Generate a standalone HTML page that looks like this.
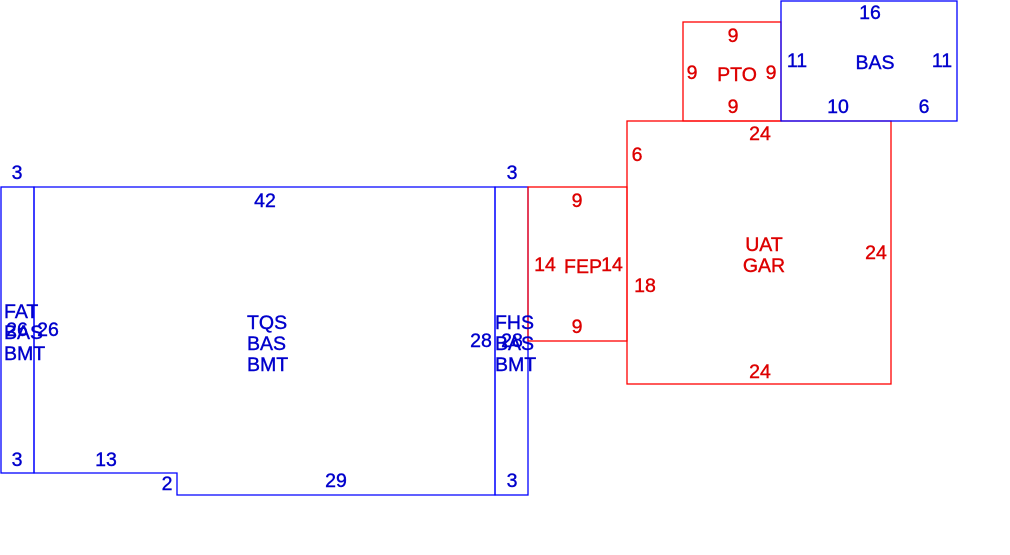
<!DOCTYPE html>
<html><head><style>body{margin:0;background:#fff}svg{display:block}text{font-family:"Liberation Sans",sans-serif;font-size:19.5px;text-anchor:middle;stroke-width:0.4px}.b{fill:#0000cc;stroke:#0000cc}.r{fill:#dd0000;stroke:#dd0000}.l{text-anchor:start}</style></head><body>
<svg width="1010" height="555" viewBox="0 0 1010 555">
<g fill="none" stroke-width="1.3">
<rect x="1" y="187" width="33" height="286" stroke="#0000ff"/>
<polygon points="34,187 495,187 495,495 177,495 177,473 34,473" stroke="#0000ff"/>
<rect x="495" y="187" width="33" height="308" stroke="#0000ff"/>
<rect x="528" y="187" width="99" height="154" stroke="#ff0000"/>
<rect x="627" y="121" width="264" height="263" stroke="#ff0000"/>
<rect x="683" y="22" width="98" height="99" stroke="#ff0000"/>
<rect x="781" y="1" width="176" height="120" stroke="#0000ff"/>
</g>
<g class="b">
<text x="17" y="179">3</text><text x="512" y="179">3</text>
<text x="265" y="207">42</text>
<text x="17" y="466">3</text><text x="106" y="466">13</text>
<text x="167" y="490">2</text><text x="336" y="487">29</text><text x="512" y="487">3</text>
<text class="l" x="4" y="318">FAT</text><text class="l" x="4" y="339">BAS</text><text class="l" x="4" y="360">BMT</text>
<text x="17" y="336">26</text><text x="48" y="336">26</text>
<text class="l" x="247" y="329">TQS</text><text class="l" x="247" y="350">BAS</text><text class="l" x="247" y="371">BMT</text>
<text class="l" x="495" y="329">FHS</text><text class="l" x="495" y="350">BAS</text><text class="l" x="495" y="371">BMT</text>
<text x="481" y="347">28</text><text x="512" y="347">28</text>
<text x="870" y="19">16</text><text x="797" y="67">11</text><text x="875" y="69">BAS</text><text x="942" y="67">11</text>
<text x="838" y="113">10</text><text x="924" y="113">6</text>
</g>
<g class="r">
<text x="733" y="42">9</text><text x="692" y="79">9</text><text x="737" y="81">PTO</text><text x="771" y="79">9</text><text x="733" y="113">9</text>
<text x="760" y="140">24</text><text x="637" y="161">6</text>
<text x="577" y="207">9</text>
<text x="545" y="271">14</text><text x="583" y="273">FEP</text><text x="612" y="271">14</text>
<text x="577" y="333">9</text>
<text x="764" y="251">UAT</text><text x="764" y="272">GAR</text>
<text x="876" y="259">24</text><text x="645" y="292">18</text>
<text x="760" y="378">24</text>
</g>
</svg>
</body></html>
